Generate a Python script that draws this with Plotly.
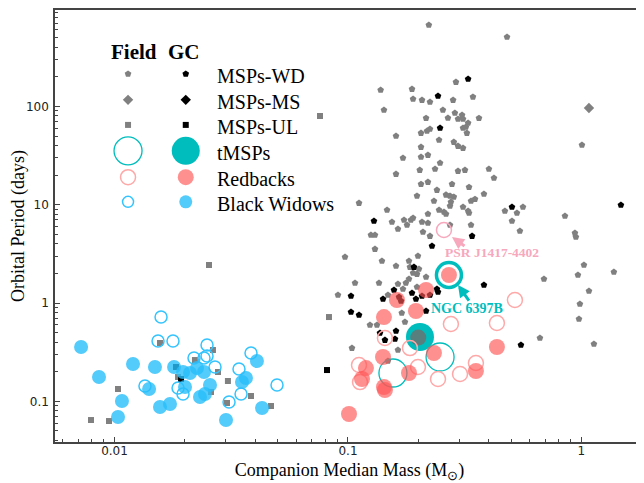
import math
import plotly.graph_objects as go

# ---------------- data (companion mass [Msun], orbital period [days]) ----------------
field_wd_m = [0.222,0.480,0.290,0.138,0.188,0.190,0.2075,0.2245,0.282,0.343,0.1426,0.255,0.287,0.308,0.268,0.216,0.296,0.311,0.364,0.327,0.320,0.311,0.2245,0.218,0.2055,0.323,0.1606,0.2455,0.284,0.296,0.311,0.2055,0.220,0.2055,0.172,0.248,0.1606,0.236,0.203,0.296,0.317,0.4015,0.422,0.2055,0.220,0.279,0.330,0.2405,0.1975,0.263,0.2735,0.284,0.3823,0.1115,0.2335,0.276,0.2735,0.3365,0.350,0.311,0.327,0.330,0.2455,0.2577,0.263,0.147,0.470,0.5617,0.5293,0.504,0.545,0.850,0.938,0.947,1.005,0.1543,0.1637,0.1738,0.179,0.186,0.190,0.2075,0.220,0.2095,0.2245,0.2735,0.3365,0.1254,0.1305,0.220,0.691,1.025,0.966,1.377,1.077,0.985,0.976,0.664,1.131,0.1305,0.0971,0.1398,0.1825,0.1994,0.1606,0.1843,0.2014,0.190,0.1975,0.216,0.1825,0.1072,0.1358,0.1637,0.177,0.1975,0.172,0.1483,0.0906,0.170,0.1754,0.1242,0.1331,0.104,0.1637,0.1483]
field_wd_p = [673,508,177,147,150,119,116,111,116,125,91.9,92,85.7,81.7,76.2,76,74.5,74.5,76,67.8,61.7,60.3,58.9,56.2,53.6,53.6,50.0,45.5,43.4,39.5,37.7,38.6,32.0,30.6,29.9,26.6,20.5,23.1,22.5,22.0,22.5,23.1,18.7,16.2,17.0,16.2,15.1,14.1,12.3,12.6,12.3,12.0,12.85,10.4,10.9,10.65,9.70,10.9,11.4,9.48,8.63,8.23,8.84,8.43,8.04,8.84,8.63,9.48,8.23,6.83,5.40,7.67,5.15,4.69,40.5,6.67,5.66,6.99,6.22,6.99,7.32,6.67,6.51,5.28,4.80,6.22,6.22,4.92,4.92,8.04,1.755,2.436,1.927,2.066,1.325,0.977,0.687,0.4405,0.383,3.54,2.94,2.675,2.675,3.01,2.38,2.32,2.22,2.02,1.97,1.84,1.755,1.598,1.598,1.56,1.598,1.455,1.388,1.206,1.206,0.791,0.641,0.597,0.597,0.348,0.3325,0.257]

gc_wd_m = [0.327,0.243,0.248,0.504,0.1292,0.340,1.476,0.229,0.1917,0.1030,0.188,0.1955,0.2075,0.2245,0.2405,0.243,0.1654,0.1687,0.1574,0.1413,0.3823,0.1030,0.1115,0.216,0.1371,0.1440,0.1606,0.159,0.5506]
gc_wd_p = [190,127.6,60.3,9.48,6.83,4.80,9.93,3.80,2.32,1.178,1.264,1.098,1.178,1.206,1.388,1.294,1.151,1.048,1.356,1.098,1.524,0.810,0.755,0.829,0.495,0.420,0.519,0.430,0.374]

field_ms_m = [1.077]
field_ms_p = [96.3]

field_ul_m = [0.0759,0.0829,0.02539,0.01566,0.0264,0.0221,0.02775,0.01871,0.01035,0.0306,0.0259,0.03842,0.03033,0.0468,0.00793,0.00947]
field_ul_p = [79.9,0.72,2.436,0.392,0.3325,0.263,0.1987,0.1767,0.1334,0.161,0.1244,0.1132,0.0961,0.0896,0.0645,0.063]

gc_ul_m = [0.0813,0.01834,0.01927]
gc_ul_p = [0.208,0.2234,0.1686]

field_rb_m = [0.276,0.4345,0.519,0.144,0.1843,0.1115,0.1994,0.1126,0.243,0.302,0.3532]
field_rb_p = [0.6113,0.626,1.073,0.4405,0.348,0.234,0.2234,0.157,0.1686,0.1896,0.2453]

gc_rb_m = [0.2707,0.216,0.1621,0.1955,0.1426,0.4345,0.1413,0.2335,0.1194,0.1825,0.3532,0.1148,0.1426,0.144,0.101]
gc_rb_p = [1.927,1.356,1.073,0.829,0.72,0.3567,0.2823,0.31,0.218,0.194,0.2033,0.1686,0.1398,0.1303,0.0743]

psr_m = [0.2577]
psr_p = [5.53]

field_tmsp_m = [0.1558,0.248]
field_tmsp_p = [0.194,0.2823]

gc_tmsp_m = [0.2034]
gc_tmsp_p = [0.451]

overlap_m = [0.200]
overlap_p = [0.445]

ngc6397b_m = [0.2707]
ngc6397b_p = [1.927]

gc_bw_m = [0.00719,0.00858,0.01035,0.01076,0.012,0.01406,0.0149,0.01566,0.01728,0.01799,0.01965,0.02106,0.02004,0.02256,0.02417,0.02323,0.0244,0.02564,0.03003,0.03516,0.03656,0.04074,0.04284]
gc_bw_p = [0.3567,0.1767,0.0692,0.1007,0.2395,0.1334,0.2234,0.0875,0.0939,0.2234,0.1987,0.194,0.1398,0.218,0.1987,0.1106,0.1187,0.1465,0.0645,0.157,0.1726,0.257,0.0855]

field_bw_m = [0.01582,0.01536,0.0178,0.0249,0.0219,0.02417,0.0249,0.02694,0.03413,0.03842,0.0135,0.01871,0.01965,0.03094,0.03483,0.04966]
field_bw_p = [0.72,0.4105,0.4105,0.374,0.2757,0.2757,0.289,0.2234,0.2134,0.31,0.1431,0.1365,0.1187,0.0984,0.1187,0.1465]

legend_labels = ["MSPs-WD", "MSPs-MS", "MSPs-UL", "tMSPs", "Redbacks", "Black Widows"]
x_ticks = [0.01, 0.1, 1]
y_ticks = [0.1, 1, 10, 100]

# ---------------- styles ----------------
GRAY = "#808080"
TEAL = "#00bdbd"
RED_FILL = "rgba(255,85,85,0.65)"
RED_LINE = "#ffa8a8"
BLUE_FILL = "rgba(40,190,250,0.8)"
BLUE_LINE = "#33c4ff"
PINK = "#f7a8bd"
SERIF = "Liberation Serif"

fig = go.Figure()

def add(xs, ys, symbol, size, color, line_color=None, line_width=0, xaxis="x", yaxis="y"):
    fig.add_trace(go.Scatter(
        x=xs, y=ys, mode="markers", xaxis=xaxis, yaxis=yaxis, showlegend=False, hoverinfo="skip",
        marker=dict(symbol=symbol, size=size, color=color,
                    line=dict(color=line_color if line_color else color, width=line_width))))

add(field_wd_m, field_wd_p, "pentagon", 7, GRAY)
add(gc_wd_m, gc_wd_p, "pentagon", 7, "black")
add(field_ms_m, field_ms_p, "diamond", 8, GRAY)
add(field_ul_m, field_ul_p, "square", 6, GRAY)
add(gc_ul_m, gc_ul_p, "square", 6, "black")
add(field_tmsp_m, field_tmsp_p, "circle-open", 28, TEAL, TEAL, 1.3)
add(gc_tmsp_m, gc_tmsp_p, "circle", 28, TEAL)
add(overlap_m, overlap_p, "circle", 16, "rgba(110,110,110,0.8)")
add(field_rb_m, field_rb_p, "circle-open", 15, RED_LINE, RED_LINE, 1.5)
add(gc_rb_m, gc_rb_p, "circle", 16, RED_FILL)
add(psr_m, psr_p, "circle-open", 15, PINK, PINK, 1.5)
add(ngc6397b_m, ngc6397b_p, "circle-open", 25, TEAL, TEAL, 3.5)
add(field_bw_m, field_bw_p, "circle-open", 12, BLUE_LINE, BLUE_LINE, 1.5)
add(gc_bw_m, gc_bw_p, "circle", 14, BLUE_FILL)

# ---------------- legend (drawn on an overlay 0-1 axis) ----------------
col_field, col_gc, col_text = 0.124, 0.222, 0.272
rows = [0.852, 0.792, 0.734, 0.674, 0.613, 0.556]
leg_field = [("pentagon", 7, GRAY, None, 0), ("diamond", 8, GRAY, None, 0), ("square", 6, GRAY, None, 0),
             ("circle-open", 28, TEAL, TEAL, 1.3), ("circle-open", 15, RED_LINE, RED_LINE, 1.5),
             ("circle-open", 11, BLUE_LINE, BLUE_LINE, 1.5)]
leg_gc = [("pentagon", 7, "black", None, 0), ("diamond", 8, "black", None, 0), ("square", 6, "black", None, 0),
          ("circle", 28, TEAL, None, 0), ("circle", 16, RED_FILL, None, 0), ("circle", 13, BLUE_FILL, None, 0)]
for r, (s, sz, c, lc, lw) in zip(rows, leg_field):
    add([col_field], [r], s, sz, c, lc, lw, "x2", "y2")
for r, (s, sz, c, lc, lw) in zip(rows, leg_gc):
    add([col_gc], [r], s, sz, c, lc, lw, "x2", "y2")

annotations = []
for r, lab in zip(rows, legend_labels):
    annotations.append(dict(x=col_text, y=r - 0.005, xref="paper", yref="paper", text=lab, showarrow=False,
                            xanchor="left", yanchor="middle",
                            font=dict(family=SERIF, size=20, color="black")))
annotations.append(dict(x=0.134, y=0.902, xref="paper", yref="paper", text="<b>Field</b>", showarrow=False,
                        xanchor="center", yanchor="middle", font=dict(family=SERIF, size=21, color="black")))
annotations.append(dict(x=0.219, y=0.902, xref="paper", yref="paper", text="<b>GC</b>", showarrow=False,
                        xanchor="center", yanchor="middle", font=dict(family=SERIF, size=21, color="black")))

# ---------------- labelled sources ----------------
annotations.append(dict(x=math.log10(0.279), y=math.log10(4.69), xref="x", yref="y", text="", showarrow=True,
                        arrowhead=2, arrowsize=0.8, arrowwidth=3, arrowcolor=PINK, ax=14, ay=10))
annotations.append(dict(x=math.log10(0.414), y=math.log10(3.23), xref="x", yref="y",
                        text="<b>PSR J1417-4402</b>", showarrow=False, xanchor="center", yanchor="middle",
                        font=dict(family=SERIF, size=13.5, color=PINK)))
annotations.append(dict(x=math.log10(0.296), y=math.log10(1.524), xref="x", yref="y", text="", showarrow=True,
                        arrowhead=2, arrowsize=0.8, arrowwidth=3, arrowcolor=TEAL, ax=12, ay=17))
annotations.append(dict(x=math.log10(0.323), y=math.log10(0.889), xref="x", yref="y",
                        text="<b>NGC 6397B</b>", showarrow=False, xanchor="center", yanchor="middle",
                        font=dict(family=SERIF, size=14, color=TEAL)))

AX = "#444444"
TICKFONT = dict(family="DejaVu Sans", size=12, color="#222")
fig.update_layout(
    width=636, height=475,
    margin=dict(l=47, r=0, t=2, b=41),
    plot_bgcolor="white", paper_bgcolor="white",
    annotations=annotations,
    xaxis=dict(type="log", range=[-2.255, 0.268], showgrid=False, zeroline=False,
               showline=True, linecolor=AX, linewidth=1.5, mirror=True,
               ticks="inside", ticklen=5, tickcolor=AX, tickwidth=1,
               tickvals=x_ticks, ticktext=[f"{v:g}" for v in x_ticks],
               minor=dict(ticks="inside", ticklen=3, tickcolor=AX, dtick="D1", showgrid=False),
               tickfont=TICKFONT, ticklabelstandoff=-3,
               title=dict(text="Companion Median Mass (M<sub>⊙</sub>)", standoff=13,
                          font=dict(family=SERIF, size=18, color="black"))),
    yaxis=dict(type="log", range=[-1.414, 2.981], showgrid=False, zeroline=False,
               showline=True, linecolor=AX, linewidth=1.5,
               ticks="inside", ticklen=5, tickcolor=AX, tickwidth=1,
               tickvals=y_ticks, ticktext=[f"{v:g}" for v in y_ticks],
               minor=dict(ticks="inside", ticklen=3, tickcolor=AX, dtick="D1", showgrid=False),
               tickfont=TICKFONT, ticklabelstandoff=2,
               title=dict(text="Orbital Period (days)", standoff=0,
                          font=dict(family=SERIF, size=18, color="black"))),
    xaxis2=dict(overlaying="x", range=[0, 1], visible=False, fixedrange=True),
    yaxis2=dict(overlaying="y", range=[0, 1], visible=False, fixedrange=True),
)

fig.write_html("out.html")
